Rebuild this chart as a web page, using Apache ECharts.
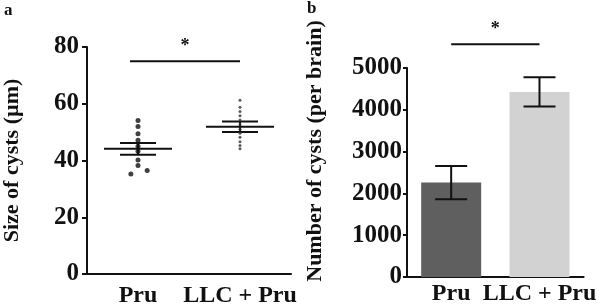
<!DOCTYPE html>
<html>
<head>
<meta charset="utf-8">
<script src="https://cdn.jsdelivr.net/npm/echarts@6/dist/echarts.min.js"></script>
<style>
  html, body { margin: 0; padding: 0; background: #fff; }
  #chart { width: 597px; height: 308px; }
</style>
</head>
<body>
<div id="chart"></div>
<script>
// categories
const categories = ['Pru', 'LLC + Pru']

// panel a: cyst size (µm), individual points
const pruSizes = [54.1, 52.0, 49.4, 47.1, 45.0, 43.3, 40.2, 38.2, 36.5, 35.2]
const pruJitter = [0, 0, 0, 0, 0, 0, 0, 0, 0.09, -0.07]
const llcSizes = [61.2, 58.8, 57.3, 55.8, 54.3, 52.6, 51.0, 49.6, 48.2, 46.6, 45.3, 44.1]
const sizeMean = [44.1, 51.9]
const sizeSem = [2.05, 1.85]
const sizeSig = 75

// panel b: cysts per brain
const cystCount = [2258, 4426]
const cystErr = [400, 350]
const countSig = 5570

const barColors = ['#5f5f5f', '#d2d2d2']
const ink = '#111'
const serif = 'Liberation Serif'

const axisText = { fontFamily: serif, fontWeight: 'bold', color: ink }

// lines for mean +/- sem
const meanSemItem = (params, api) => {
    const x = api.value(0)
    const m = api.value(1)
    const s = api.value(2)
    const c = api.coord([x, m])
    const hi = api.coord([x, m + s])
    const lo = api.coord([x, m - s])
    const st = { stroke: ink, lineWidth: 2 }
    return {
        type: 'group',
        children: [
            { type: 'line', shape: { x1: c[0] - 34, y1: c[1], x2: c[0] + 34, y2: c[1] }, style: st },
            { type: 'line', shape: { x1: c[0] - 18, y1: hi[1], x2: c[0] + 18, y2: hi[1] }, style: st },
            { type: 'line', shape: { x1: c[0] - 18, y1: lo[1], x2: c[0] + 18, y2: lo[1] }, style: st },
            { type: 'line', shape: { x1: c[0], y1: hi[1], x2: c[0], y2: lo[1] }, style: st }
        ]
    }
}

// error bars on the bar chart
const errItem = (params, api) => {
    const x = api.value(0)
    const m = api.value(1)
    const s = api.value(2)
    const hi = api.coord([x, m + s])
    const lo = api.coord([x, m - s])
    const st = { stroke: ink, lineWidth: 2 }
    return {
        type: 'group',
        children: [
            { type: 'line', shape: { x1: hi[0] - 16, y1: hi[1], x2: hi[0] + 16, y2: hi[1] }, style: st },
            { type: 'line', shape: { x1: lo[0] - 16, y1: lo[1], x2: lo[0] + 16, y2: lo[1] }, style: st },
            { type: 'line', shape: { x1: hi[0], y1: hi[1], x2: lo[0], y2: lo[1] }, style: st }
        ]
    }
}

// significance bracket with star
const sigItem = (pad, starDx) => (params, api) => {
    const v = api.value(2)
    const p1 = api.coord([api.value(0), v])
    const p2 = api.coord([api.value(1), v])
    return {
        type: 'group',
        children: [
            { type: 'line', shape: { x1: p1[0] - pad, y1: p1[1], x2: p2[0], y2: p2[1] }, style: { stroke: ink, lineWidth: 2 } },
            {
                type: 'text',
                x: (p1[0] + p2[0]) / 2 + starDx, y: p1[1] - 15,
                style: { text: '*', fill: ink, font: 'bold 18px "Liberation Serif"', textAlign: 'center', textVerticalAlign: 'middle' }
            }
        ]
    }
}

const chart = echarts.init(document.getElementById('chart'))

chart.setOption({
    animation: false,
    backgroundColor: '#fff',
    graphic: [
        { type: 'text', left: 4, top: 2, style: { text: 'a', font: 'bold 17px "Liberation Serif"', fill: ink } },
        { type: 'text', left: 307, top: 0, style: { text: 'b', font: 'bold 17px "Liberation Serif"', fill: ink } },
        {
            type: 'text', x: 315, y: 151, rotation: Math.PI / 2,
            style: { text: 'Number of cysts (per brain)', font: 'bold 22px "Liberation Serif"', fill: ink, textAlign: 'center', textVerticalAlign: 'middle' }
        }
    ],
    grid: [
        { left: 80, top: 47, width: 211, height: 228 },
        { left: 407, top: 68, width: 186, height: 209 }
    ],
    xAxis: [
        {
            gridIndex: 0, type: 'category', data: categories,
            axisLine: { lineStyle: { color: ink, width: 2 } },
            axisTick: { alignWithLabel: true, length: 6, lineStyle: { width: 2 } },
            axisLabel: { ...axisText, fontSize: 24, margin: 10, interval: 0 }
        },
        {
            gridIndex: 0, type: 'value', min: -0.5, max: 1.5, show: false
        },
        {
            gridIndex: 1, type: 'category', data: categories,
            axisLine: { lineStyle: { color: ink, width: 2 } },
            axisTick: { show: false },
            axisLabel: { ...axisText, fontSize: 24, margin: 5, interval: 0 }
        }
    ],
    yAxis: [
        {
            gridIndex: 0, type: 'value', min: 0, max: 80, interval: 20,
            name: 'Size of cysts (µm)', nameLocation: 'middle', nameGap: 64,
            nameTextStyle: { ...axisText, fontSize: 22 },
            axisLine: { show: true, onZero: false, lineStyle: { color: ink, width: 2 } },
            axisTick: { show: true, length: 5, lineStyle: { width: 2 } },
            axisLabel: { ...axisText, fontSize: 25, margin: 8 },
            splitLine: { show: false }
        },
        {
            gridIndex: 1, type: 'value', min: 0, max: 5000, interval: 1000,
            axisLine: { show: true, onZero: false, lineStyle: { color: ink, width: 2 } },
            axisTick: { show: true, length: 4, lineStyle: { width: 2 } },
            axisLabel: { ...axisText, fontSize: 25, margin: 5, formatter: v => String(v) },
            splitLine: { show: false }
        }
    ],
    series: [
        {
            type: 'scatter', xAxisIndex: 1, yAxisIndex: 0,
            symbolSize: 5, itemStyle: { color: ink },
            data: pruSizes.map((v, i) => [pruJitter[i], v])
        },
        {
            type: 'scatter', xAxisIndex: 1, yAxisIndex: 0,
            symbolSize: 3, itemStyle: { color: '#333' },
            data: llcSizes.map(v => [1, v])
        },
        {
            type: 'custom', xAxisIndex: 0, yAxisIndex: 0, clip: false,
            renderItem: meanSemItem,
            data: sizeMean.map((m, i) => [i, m, sizeSem[i]])
        },
        {
            type: 'custom', xAxisIndex: 0, yAxisIndex: 0, clip: false,
            renderItem: sigItem(8, -4),
            data: [[0, 1, sizeSig]]
        },
        {
            type: 'bar', xAxisIndex: 2, yAxisIndex: 1, barWidth: 60,
            data: cystCount.map((v, i) => ({ value: v, itemStyle: { color: barColors[i] } }))
        },
        {
            type: 'custom', xAxisIndex: 2, yAxisIndex: 1, clip: false, z: 5,
            renderItem: errItem,
            data: cystCount.map((v, i) => [i, v, cystErr[i]])
        },
        {
            type: 'custom', xAxisIndex: 2, yAxisIndex: 1, clip: false,
            renderItem: sigItem(0, 0),
            data: [[0, 1, countSig]]
        }
    ]
})

window.onresize = () => chart.resize()
</script>
</body>
</html>
